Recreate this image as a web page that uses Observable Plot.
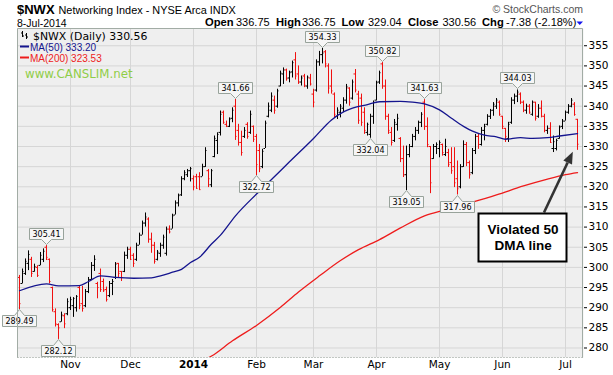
<!DOCTYPE html>
<html><head><meta charset="utf-8">
<script src="https://cdn.jsdelivr.net/npm/d3@7"></script>
<script src="https://cdn.jsdelivr.net/npm/@observablehq/plot@0.6"></script>
<style>
html,body{margin:0;padding:0;background:#fff;}
#wrap{position:relative;width:613px;height:375px;overflow:hidden;}
#wrap > svg{position:absolute;left:0;top:0;}
</style></head><body><div id="wrap"></div>
<script>
// ---- data (trading-day index 0 = 9-Oct-2013 ... 186 = 8-Jul-2014) ----
const opens = [
297.5,296.0,298.5,301.0,302.0,299.0,300.0,300.5,302.0,305.0,
302.0,295.0,289.0,285.8,286.5,288.0,288.5,290.0,290.5,290.0,
295.0,291.0,290.5,294.0,297.0,300.5,296.0,298.5,296.5,294.5,
293.0,296.0,297.5,301.0,299.0,299.0,303.0,304.5,303.0,302.0,
305.5,308.0,311.0,312.0,307.0,305.5,302.0,303.5,305.5,303.5,
309.5,309.5,313.0,316.0,318.0,322.0,323.0,324.0,322.0,322.5,
322.5,322.5,325.0,324.0,320.5,327.5,331.5,333.5,338.5,335.5,
335.0,337.0,340.0,334.0,331.0,332.5,335.5,333.5,335.0,332.5,
329.0,325.0,329.5,337.5,339.0,341.5,340.0,345.0,348.0,349.0,
347.0,348.5,351.5,348.0,346.0,347.5,345.0,347.0,343.0,344.0,
351.0,352.8,353.5,350.0,345.0,343.0,337.5,338.5,339.5,341.5,
344.5,342.0,348.0,343.0,342.0,338.5,333.5,333.0,337.5,341.5,
346.0,350.5,345.0,337.5,333.5,331.5,335.5,332.0,327.0,323.0,
328.0,330.0,332.5,334.0,336.0,341.0,335.0,330.0,327.0,330.0,
329.5,330.5,328.0,328.5,326.0,325.0,322.0,320.0,325.0,330.5,
326.0,323.5,329.0,332.5,330.5,334.0,335.5,337.5,339.0,340.0,
341.0,337.5,334.5,332.0,336.0,341.5,342.5,343.0,341.0,339.0,
340.0,338.0,341.0,337.5,339.5,337.5,334.0,334.5,329.5,329.5,
332.0,335.0,336.3,338.5,340.0,340.5,336.75];
const highs = [
298.0,299.6,302.1,304.1,302.5,300.8,300.4,303.7,304.6,305.41,
302.1,295.1,289.7,286.0,288.9,288.5,292.2,292.6,292.5,293.0,
295.5,295.3,294.5,297.5,301.2,302.9,296.3,299.6,297.1,295.1,
296.5,297.0,301.2,301.0,299.0,303.8,305.0,305.0,303.4,306.0,
308.5,311.5,313.5,312.3,308.5,306.2,304.2,306.0,308.0,310.0,
310.3,313.2,316.5,318.2,322.5,324.0,324.3,324.8,322.7,323.1,
323.5,325.6,329.7,324.3,324.3,332.6,333.4,338.8,338.8,336.3,
337.1,339.6,341.66,335.5,333.8,334.7,335.9,338.8,335.1,333.0,
330.5,329.3,336.3,340.8,343.3,342.5,344.2,348.7,349.5,349.2,
348.7,351.2,353.3,350.0,347.5,347.9,347.5,347.9,344.2,351.5,
353.6,354.33,353.8,350.5,349.0,343.3,339.6,340.4,342.1,345.4,
344.6,346.5,349.1,343.7,343.0,339.6,335.8,338.0,341.3,346.2,
348.7,350.82,346.5,338.0,334.7,336.7,338.0,332.2,330.1,330.1,
330.5,333.0,334.7,336.3,338.4,341.63,337.1,330.0,330.5,330.9,
331.4,330.6,331.8,329.3,329.7,329.7,326.4,325.5,331.4,331.0,
326.4,329.5,333.0,333.0,334.7,335.5,337.9,339.2,340.9,341.9,
341.3,337.5,334.5,336.0,342.1,343.0,344.03,343.3,341.3,340.5,
340.4,341.3,341.0,340.4,341.3,338.0,335.1,335.9,332.6,331.8,
335.1,336.7,338.8,340.4,341.9,340.9,336.75];
const lows = [
289.49,295.9,298.0,299.2,297.5,298.8,297.5,300.4,301.2,301.7,
295.9,288.9,285.2,282.12,286.4,284.8,288.0,289.3,287.6,288.9,
289.5,288.9,290.0,293.5,296.8,299.0,292.2,293.8,293.8,291.4,
292.5,293.0,297.0,297.5,296.5,298.7,302.0,301.7,300.0,301.5,
305.5,308.0,310.0,306.0,303.5,300.8,301.6,302.5,304.5,302.8,
308.3,309.5,313.0,315.0,317.6,321.5,322.3,321.2,319.0,319.5,
319.2,322.5,324.8,319.8,319.8,327.2,328.0,332.6,335.5,334.7,
334.7,335.9,331.5,330.1,327.6,332.0,331.8,333.0,331.0,322.72,
323.5,324.5,329.5,337.1,338.4,338.0,339.5,344.8,345.4,346.2,
345.8,347.0,346.5,345.4,345.0,344.6,344.2,345.0,339.6,343.5,
349.9,350.5,349.5,343.0,343.0,337.1,336.7,337.1,338.4,340.5,
340.0,341.5,343.3,335.5,335.0,333.0,332.6,332.04,335.5,341.3,
345.4,344.2,336.5,333.0,330.1,331.0,333.8,326.0,322.3,319.05,
327.2,329.7,331.4,333.0,334.7,334.0,329.7,318.3,326.8,328.0,
327.2,327.6,327.5,324.8,323.1,319.8,317.96,319.5,324.8,325.0,
321.9,323.0,328.0,329.3,330.1,331.4,335.1,336.7,337.5,339.2,
337.5,334.2,331.0,331.0,335.5,340.4,340.9,340.4,338.4,338.0,
338.0,337.5,336.3,337.0,337.1,333.4,333.0,330.9,328.5,328.9,
331.8,334.2,336.3,338.0,339.6,337.5,329.04];
const closes = [
291.0,299.0,301.5,303.2,298.5,300.2,298.0,303.0,304.0,302.5,
296.5,289.5,286.0,285.0,288.2,286.0,291.5,292.0,292.3,292.8,
290.5,289.8,294.0,297.0,300.5,302.0,295.0,294.5,294.2,292.0,
296.0,296.5,300.8,298.5,297.5,303.0,304.5,302.0,301.0,305.5,
308.0,311.0,312.5,307.0,305.5,301.5,303.8,305.5,307.5,309.5,
308.8,312.8,316.0,317.8,322.0,323.5,324.0,324.5,320.0,319.6,
319.3,325.0,329.0,322.0,324.0,332.0,333.0,338.0,336.0,335.0,
336.8,339.0,332.5,331.0,328.5,334.0,332.5,338.0,331.8,325.5,
324.5,328.8,335.8,340.0,342.5,339.0,343.8,348.2,349.0,346.8,
348.3,350.8,347.5,346.0,347.0,345.2,347.2,345.5,341.0,351.0,
352.8,353.2,350.5,344.5,343.8,338.0,339.0,340.0,341.5,344.8,
341.0,346.0,344.0,336.5,336.0,334.0,335.5,337.5,341.0,345.8,
348.3,345.0,337.5,334.0,331.0,336.0,337.0,327.0,323.0,328.0,
330.0,332.5,334.0,336.0,338.0,335.0,330.5,321.0,330.0,330.5,
331.0,328.5,330.0,325.5,324.0,321.0,319.5,325.0,330.5,326.0,
323.0,329.0,332.5,330.5,334.0,335.0,337.5,338.9,340.5,341.5,
338.0,335.0,332.5,335.5,341.5,342.5,343.5,341.0,339.0,340.0,
338.5,341.0,337.0,339.5,337.5,334.0,334.5,331.0,331.2,331.5,
334.8,336.3,338.5,340.0,341.5,337.94,330.56];

const ma50Idx = [0,9,13,20,23,27,32,38,44,47,51,54,57,60,64,67,72,79,84,90,98,104,108,111,116,120,127,131,135,140,144,148,151,155,159,162,167,171,176,180,186];
const ma50Val = [294.2,295.9,295.4,295.5,296.5,297.9,297.5,297.3,297.4,297.9,298.8,299.5,301.2,302.5,305.8,308.0,312.8,318.2,321.8,326.2,332.0,336.6,338.6,339.5,340.4,341.1,341.2,341.0,340.6,339.1,337.0,335.0,333.8,332.8,332.4,331.8,332.2,332.0,332.2,332.6,333.2];
const ma200Idx = [62,64,71,79,87,93,100,107,113,120,127,135,142,151,159,168,176,182,186];
const ma200Val = [277.2,278.0,281.8,285.6,290.1,293.9,297.9,301.7,304.4,306.9,309.8,312.8,314.3,316.2,318.0,320.2,321.9,323.0,323.53];

const labelIdx = [0,9,13,72,79,101,117,121,129,135,146,166];
const labelVal = [289.49,305.41,282.12,341.66,322.72,354.33,332.04,350.82,319.05,341.63,317.96,344.03];

const monthIdx = [17,37,58,79,98,119,140,161,182];
const monthLbl = ["Nov","Dec","2014","Feb","Mar","Apr","May","Jun","Jul"];
const yTicks = [280,285,290,295,300,305,310,315,320,325,330,335,340,345,350,355];

// ---- tables built from the arrays ----
const bars = opens.map((o, i) => ({
  i, open: o, high: highs[i], low: lows[i], close: closes[i],
  up: i === 0 ? closes[i] >= o : closes[i] >= closes[i - 1]
}));
const upBars = bars.filter(d => d.up), dnBars = bars.filter(d => !d.up);
const ma50 = ma50Idx.map((i, k) => ({i, v: ma50Val[k]}));
const ma200 = ma200Idx.map((i, k) => ({i, v: ma200Val[k]}));
const months = monthIdx.map((i, k) => ({i, label: monthLbl[k]}));

const NS = "http://www.w3.org/2000/svg";
function el(tag, attrs = {}, text) {
  const e = document.createElementNS(NS, tag);
  for (const k in attrs) e.setAttribute(k, attrs[k]);
  if (text != null) e.textContent = text;
  return e;
}

const RED = "#f01010", BLACK = "#000", NAVY = "#14148e", MARED = "#ee1c1c";
const GRID = "#d6d6d6", BORDER = "#a2aca5";

function ohlc(data, color) {
  return [
    Plot.ruleX(data, {x: "i", y1: "low", y2: "high", stroke: color, strokeWidth: 1}),
    Plot.ruleY(data, {y: "open", x1: d => d.i - 0.5, x2: d => d.i, stroke: color, strokeWidth: 1}),
    Plot.ruleY(data, {y: "close", x1: d => d.i, x2: d => d.i + 0.5, stroke: color, strokeWidth: 1})
  ];
}

// value labels with pointer boxes, placed through the x / y scales
function valueLabels(index, scales) {
  const g = el("g");
  labelIdx.forEach((bi, k) => {
    const v = labelVal[k];
    const above = highs[bi] === v;
    const px = Math.round(scales.x(bi)) + 0.5;
    const py = Math.round(scales.y(v));
    const txt = v.toFixed(2);
    const hw = Math.round((txt.length * 5.0 + 4) / 2), h = 11, m = 5;
    let d, ty;
    if (above) {
      const b = py - m - 1 + 0.5, t = b - h;
      d = `M${px - hw},${t}H${px + hw}V${b}H${px + m}L${px},${py - 0.5}L${px - m},${b}H${px - hw}Z`;
      ty = t + h / 2 + 3;
    } else {
      const t = py + m + 1 + 0.5, b = t + h;
      d = `M${px - hw},${b}H${px + hw}V${t}H${px + m}L${px},${py + 0.5}L${px - m},${t}H${px - hw}Z`;
      ty = t + h / 2 + 3;
    }
    g.appendChild(el("path", {d, fill: "#f6f6f6", stroke: "#98a39b", "stroke-width": 1}));
    g.appendChild(el("text", {x: px, y: ty, "text-anchor": "middle", "font-family": "DejaVu Sans", "font-size": 8, fill: "#000"}, txt));
  });
  return g;
}

function frameLines(index, scales, values, dims) {
  const {width, height, marginLeft, marginRight, marginTop, marginBottom} = dims;
  const l = marginLeft + 0.5, r = width - marginRight - 0.5, t = marginTop + 0.5, b = height - marginBottom + 0.5;
  const g = el("g");
  g.appendChild(el("path", {d: `M${l},${b}V${t}H${r}V${b}`, fill: "none", stroke: BORDER}));
  g.appendChild(el("path", {d: `M${l},${b}H${r}`, fill: "none", stroke: "#8c978f", "stroke-dasharray": "1,2"}));
  return g;
}

// callout anchored in data space
const callout = {boxI: 167.7, boxV: 307.35, fromI: 175, fromV: 313.5, toI: 184.6, toV: 328.6};
function calloutMark(index, scales) {
  const g = el("g");
  const cx = scales.x(callout.boxI), cy = scales.y(callout.boxV);
  const x0 = scales.x(callout.fromI), y0 = scales.y(callout.fromV);
  const x1 = scales.x(callout.toI), y1 = scales.y(callout.toV);
  const dx = x1 - x0, dy = y1 - y0, len = Math.hypot(dx, dy), ux = dx / len, uy = dy / len;
  const hl = 12, hw = 4.8;
  const bx = x1 - ux * hl, by = y1 - uy * hl;
  g.appendChild(el("line", {x1: x0, y1: y0, x2: bx, y2: by, stroke: "#333", "stroke-width": 2.6}));
  g.appendChild(el("path", {d: `M${x1},${y1}L${bx - uy * hw},${by + ux * hw}L${bx + uy * hw},${by - ux * hw}Z`, fill: "#333"}));
  const w = 88, h = 48;
  g.appendChild(el("rect", {x: Math.round(cx - w / 2) + 0.5, y: Math.round(cy - h / 2) + 0.5, width: w, height: h, fill: "#fff", stroke: "#000", "stroke-width": 2}));
  const t1 = el("text", {x: cx + 1, y: cy - 3, "text-anchor": "middle", "font-family": "Liberation Sans", "font-weight": "bold", "font-size": 13.5, fill: "#000"}, "Violated 50");
  const t2 = el("text", {x: cx + 1, y: cy + 13, "text-anchor": "middle", "font-family": "Liberation Sans", "font-weight": "bold", "font-size": 13.5, fill: "#000"}, "DMA line");
  g.appendChild(t1); g.appendChild(t2);
  return g;
}

const chart = Plot.plot({
  width: 613, height: 375,
  marginLeft: 17, marginRight: 30, marginTop: 28, marginBottom: 18,
  style: {fontFamily: "DejaVu Sans", fontSize: "10.5px", background: "transparent", color: "#000", overflow: "visible"},
  x: {domain: [-2 / 3, 188], axis: null},
  y: {domain: [277.64, 359.28], axis: "right", ticks: yTicks, tickSize: 3, tickPadding: 2, label: null},
  marks: [
    Plot.frame({fill: "#efefef", stroke: "none"}),
    Plot.ruleY(yTicks, {stroke: GRID}),
    Plot.ruleX(monthIdx, {stroke: GRID}),
    ...ohlc(upBars, BLACK),
    ...ohlc(dnBars, RED),
    Plot.line(ma200, {x: "i", y: "v", stroke: MARED, strokeWidth: 1.3, curve: "monotone-x", clip: true}),
    Plot.line(ma50, {x: "i", y: "v", stroke: NAVY, strokeWidth: 1.3, curve: "monotone-x", clip: true}),
    valueLabels,
    frameLines,
    Plot.text(months.filter(d => d.label !== "2014"), {x: "i", text: "label", frameAnchor: "bottom", dy: 10, fontSize: 10.5}),
    Plot.text(months.filter(d => d.label === "2014"), {x: "i", text: "label", frameAnchor: "bottom", dy: 10, fontSize: 10.5, fontWeight: "bold"}),
    calloutMark
  ]
});
const wrap = document.getElementById("wrap");
wrap.appendChild(chart);

// ---- header & legend overlay ----
const ov = el("svg", {width: 613, height: 375, viewBox: "0 0 613 375"});
ov.style.pointerEvents = "none";
function t(x, y, s, o = {}) {
  ov.appendChild(el("text", Object.assign({x, y, "font-family": "Liberation Sans", "font-size": 11, fill: "#000"}, o), s));
}
t(17, 14, "$NWX", {"font-weight": "bold", "font-size": 13});
t(58.5, 14, "Networking Index - NYSE Arca INDX", {"font-size": 10.9});
t(17, 26.5, "8-Jul-2014", {"font-size": 10.5});
t(583, 13, "\u00A9 StockCharts.com", {"text-anchor": "end", "font-size": 10.5, fill: "#555"});
const hdr = [[205, "Open", true], [236, "336.75"], [276, "High", true], [302, "336.75"], [341.5, "Low", true], [368, "329.04"],
             [408, "Close", true], [442.5, "330.56"], [482, "Chg", true], [506, "-7.38 (-2.18%)"]];
hdr.forEach(([x, s, b]) => t(x, 26, s, b ? {"font-weight": "bold", "font-size": 11.2} : {"font-size": 11}));
ov.appendChild(el("path", {d: "M576.5,21.5H583L579.75,25Z", fill: "#1515ee"}));
// legend
ov.appendChild(el("path", {d: "M22.5,31V37M21,33H22.5M22.5,36H24M26.5,33V39M25,35H26.5M26.5,37H28", stroke: "#000", "stroke-width": 1, fill: "none"}));
t(33, 39.5, "$NWX (Daily) 330.56", {"font-family": "DejaVu Sans", "font-size": 10.9});
ov.appendChild(el("line", {x1: 20, x2: 29, y1: 46.5, y2: 46.5, stroke: NAVY, "stroke-width": 2}));
t(30, 50.5, "MA(50) 333.20", {"font-size": 10, fill: NAVY});
ov.appendChild(el("line", {x1: 20, x2: 29, y1: 57.5, y2: 57.5, stroke: MARED, "stroke-width": 2}));
t(30, 61.5, "MA(200) 323.53", {"font-size": 10, fill: MARED});
t(25, 78, "www.CANSLIM.net", {"font-family": "DejaVu Sans", "font-size": 11.8, fill: "#8fcd48"});
wrap.appendChild(ov);
</script>
</body></html>
